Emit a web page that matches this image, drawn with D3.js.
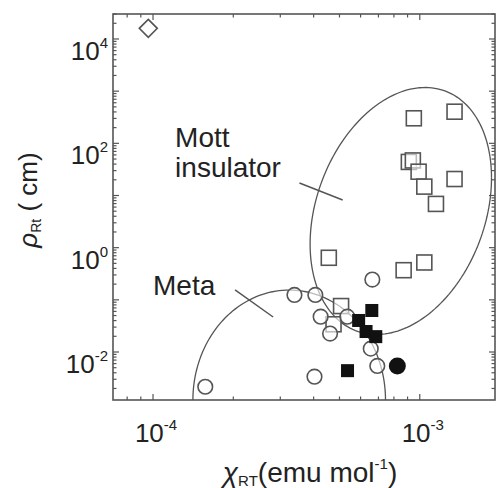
<!DOCTYPE html>
<html>
<head>
<meta charset="utf-8">
<script src="https://cdn.jsdelivr.net/npm/d3@7"></script>
<style>
  html, body { margin: 0; padding: 0; background: #fff; }
  svg { display: block; font-family: "Liberation Sans", Arial, sans-serif; }
</style>
</head>
<body>
<svg id="chart" width="497" height="488"></svg>
<script>
// susceptibility (emu/mol) vs resistivity (ohm cm) at room temperature
const xDecades = [1e-4, 1e-3];
const xDecadeExp = ["-4", "-3"];
const yDecades = [1e-2, 1, 1e2, 1e4];
const yDecadeExp = ["-2", "0", "2", "4"];

const openSquares = [
  [9.5e-4, 302], [1.35e-3, 404], [9.1e-4, 44], [9.42e-4, 47], [9.9e-4, 28.6],
  [1.04e-3, 14.8], [1.15e-3, 6.9], [1.35e-3, 20.7], [4.56e-4, 0.64],
  [8.7e-4, 0.37], [1.04e-3, 0.52], [5.07e-4, 0.076], [4.75e-4, 0.034]
];
const openCircles = [
  [6.64e-4, 0.245], [3.39e-4, 0.124], [4.06e-4, 0.124], [4.25e-4, 0.0475],
  [5.35e-4, 0.0475], [4.61e-4, 0.0226], [6.55e-4, 0.0116], [6.93e-4, 0.0054],
  [4.03e-4, 0.00336], [1.57e-4, 0.00216]
];
const filledSquares = [
  [6.61e-4, 0.0625], [5.9e-4, 0.0402], [6.29e-4, 0.0247], [6.84e-4, 0.0197],
  [5.36e-4, 0.00439]
];
const filledCircles = [[8.24e-4, 0.0054]];
const openDiamonds = [[9.6e-5, 1.6e4]];

// region outlines: centre, half-extent in decades (x, y) and log-log correlation
const mottRegion = { center: [8.49e-4, 5.05], hx: 0.340, hy: 2.367, rho: 0.268 };
const metaRegion = { center: [3.24e-4, 1.2e-3], hx: 0.361, hy: 2.108, rho: 0 };

const labels = [
  { text: "Mott", at: [1.21e-4, 85] },
  { text: "insulator", at: [1.21e-4, 22.6] },
  { text: "Meta", at: [1.0e-4, 0.124] }
];
const pointers = [
  [[3.54e-4, 17.4], [5.14e-4, 8.2]],
  [[2.03e-4, 0.1545], [2.82e-4, 0.0469]]
];

const W = 497, H = 488;
const margin = { top: 14, right: 2, bottom: 88, left: 113 };
const innerW = W - margin.left - margin.right;
const innerH = H - margin.top - margin.bottom;

const x = d3.scaleLog().domain([Math.pow(10, -4.150), Math.pow(10, -2.718)]).range([0, innerW]);
const y = d3.scaleLog().domain([Math.pow(10, -2.920), Math.pow(10, 4.479)]).range([innerH, 0]);

const svg = d3.select("#chart");
const g = svg.append("g").attr("transform", `translate(${margin.left},${margin.top})`);

svg.append("defs").append("clipPath").attr("id", "plotClip")
  .append("rect").attr("width", innerW).attr("height", innerH);

const axisColor = "#555";
const markColor = "#555";
const textColor = "#222";

// ticks on all four sides, pointing inward
function minorTicks(scale) {
  const [a, b] = scale.domain();
  const out = [];
  for (let e = Math.floor(Math.log10(a)); e <= Math.ceil(Math.log10(b)); e++) {
    for (let m = 1; m <= 9; m++) {
      const v = m * Math.pow(10, e);
      if (v >= a && v <= b) out.push({ v, major: m === 1 });
    }
  }
  return out;
}

const xt = minorTicks(x), yt = minorTicks(y);
const ticks = g.append("g").attr("stroke", axisColor).attr("stroke-width", 1.2);
xt.forEach(t => {
  const len = t.major ? 6 : 3.5;
  ticks.append("line").attr("x1", x(t.v)).attr("x2", x(t.v)).attr("y1", innerH).attr("y2", innerH - len);
  ticks.append("line").attr("x1", x(t.v)).attr("x2", x(t.v)).attr("y1", 0).attr("y2", len);
});
yt.forEach(t => {
  const len = t.major ? 6 : 3.5;
  ticks.append("line").attr("y1", y(t.v)).attr("y2", y(t.v)).attr("x1", 0).attr("x2", len);
  ticks.append("line").attr("y1", y(t.v)).attr("y2", y(t.v)).attr("x1", innerW).attr("x2", innerW - len);
});

g.append("rect").attr("width", innerW).attr("height", innerH)
  .attr("fill", "none").attr("stroke", axisColor).attr("stroke-width", 1.6);

// tick labels as 10^n
const xl = g.append("g").attr("fill", textColor);
xDecades.forEach((v, i) => {
  const t = xl.append("text").attr("x", x(v) + 3).attr("y", innerH + 42)
    .attr("text-anchor", "middle").attr("font-size", 26);
  t.append("tspan").text("10");
  t.append("tspan").attr("font-size", 15).attr("dy", -12).text(xDecadeExp[i]);
});
const yl = g.append("g").attr("fill", textColor);
yDecades.forEach((v, i) => {
  const t = yl.append("text").attr("x", -5).attr("y", y(v) + 21)
    .attr("text-anchor", "end").attr("font-size", 26);
  t.append("tspan").text("10");
  t.append("tspan").attr("font-size", 15).attr("dy", -12).text(yDecadeExp[i]);
});

// axis titles
const xTitle = svg.append("text").attr("x", 310).attr("y", 482)
  .attr("text-anchor", "middle").attr("font-size", 28).attr("fill", textColor);
xTitle.append("tspan").attr("font-style", "italic").text("χ");
xTitle.append("tspan").attr("font-size", 15).attr("dy", 4).text("RT");
xTitle.append("tspan").attr("dy", -4).text("(emu mol");
xTitle.append("tspan").attr("font-size", 15).attr("dy", -13).text("-1");
xTitle.append("tspan").attr("dy", 13).text(")");

const yTitle = svg.append("text").attr("transform", "translate(37,200) rotate(-90)")
  .attr("text-anchor", "middle").attr("font-size", 26).attr("fill", textColor);
yTitle.append("tspan").attr("font-style", "italic").text("ρ");
yTitle.append("tspan").attr("font-size", 14).attr("dy", 4).text("Rt");
yTitle.append("tspan").attr("dy", -4).text(" (   cm)");

// region outlines
function regionPath(r) {
  const pts = d3.range(0, 361, 2).map(deg => {
    const t = deg * Math.PI / 180;
    const lx = Math.log10(r.center[0]) + r.hx * Math.cos(t);
    const ly = Math.log10(r.center[1]) + r.hy * (r.rho * Math.cos(t) + Math.sqrt(1 - r.rho * r.rho) * Math.sin(t));
    return [Math.pow(10, lx), Math.pow(10, ly)];
  });
  return d3.line().x(d => x(d[0])).y(d => y(d[1]))(pts);
}
const outlines = g.append("g").attr("clip-path", "url(#plotClip)")
  .attr("fill", "none").attr("stroke", markColor).attr("stroke-width", 1.3);
outlines.append("path").attr("d", regionPath(mottRegion));
outlines.append("path").attr("d", regionPath(metaRegion));

g.append("g").attr("stroke", markColor).attr("stroke-width", 1.5)
  .selectAll("line").data(pointers).join("line")
  .attr("x1", d => x(d[0][0])).attr("y1", d => y(d[0][1]))
  .attr("x2", d => x(d[1][0])).attr("y2", d => y(d[1][1]));

g.append("g").attr("fill", textColor).attr("font-size", 28)
  .selectAll("text").data(labels).join("text")
  .attr("x", d => x(d.at[0])).attr("y", d => y(d.at[1])).text(d => d.text);

// data points
const pts = g.append("g");
pts.selectAll(".osq").data(openSquares).join("rect").attr("class", "osq")
  .attr("x", d => x(d[0]) - 7.5).attr("y", d => y(d[1]) - 7.5)
  .attr("width", 15).attr("height", 15)
  .attr("fill", "#fff").attr("fill-opacity", 0.6).attr("stroke", markColor).attr("stroke-width", 1.6);
pts.selectAll(".ocir").data(openCircles).join("circle").attr("class", "ocir")
  .attr("cx", d => x(d[0])).attr("cy", d => y(d[1])).attr("r", 7.3)
  .attr("fill", "#fff").attr("fill-opacity", 0.6).attr("stroke", markColor).attr("stroke-width", 1.6);
pts.selectAll(".fsq").data(filledSquares).join("rect").attr("class", "fsq")
  .attr("x", d => x(d[0]) - 6.5).attr("y", d => y(d[1]) - 6.5)
  .attr("width", 13).attr("height", 13).attr("fill", "#111");
pts.selectAll(".fcir").data(filledCircles).join("circle").attr("class", "fcir")
  .attr("cx", d => x(d[0])).attr("cy", d => y(d[1])).attr("r", 8.5).attr("fill", "#111");
pts.selectAll(".odia").data(openDiamonds).join("path").attr("class", "odia")
  .attr("transform", d => `translate(${x(d[0])},${y(d[1])})`)
  .attr("d", "M0,-9L9,0L0,9L-9,0Z")
  .attr("fill", "#fff").attr("stroke", markColor).attr("stroke-width", 1.6);
</script>
</body>
</html>
